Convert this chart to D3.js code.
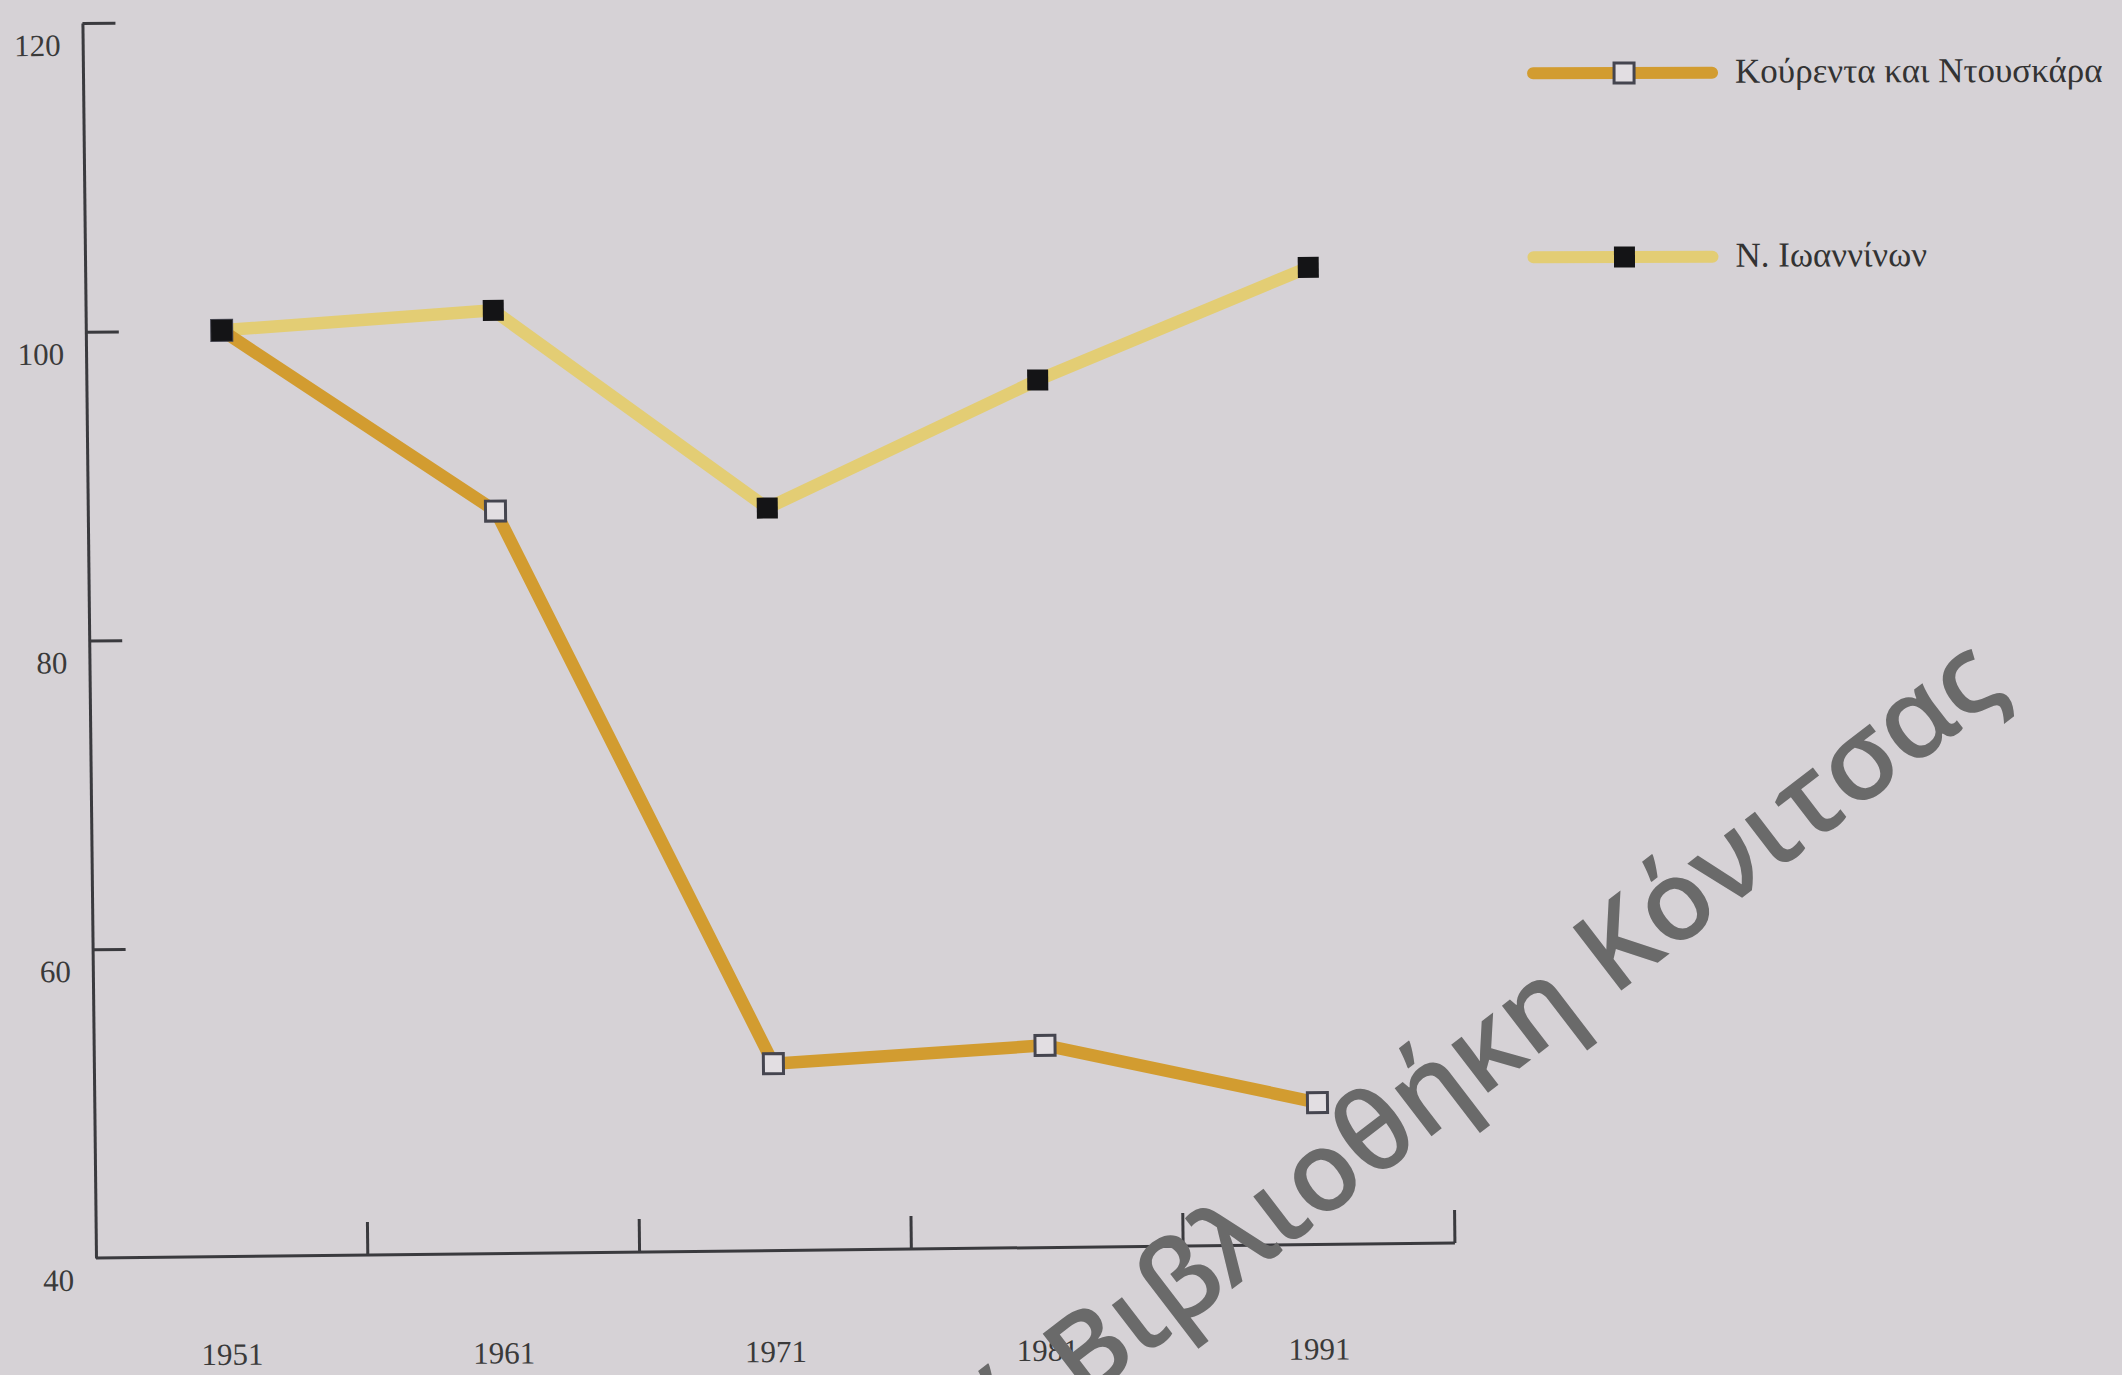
<!DOCTYPE html>
<html><head><meta charset="utf-8">
<script src="https://cdn.jsdelivr.net/npm/d3@7"></script>
<style>html,body{margin:0;padding:0;background:#d6d2d6;overflow:hidden}svg{display:block}</style>
</head><body>
<svg id="chart" width="2122" height="1375"></svg>
<script>
// ---- data ----
const years = ["1951", "1961", "1971", "1981", "1991"];
const kourenta = [100, 88.1, 52.1, 53.1, 49.2];   // Κούρεντα και Ντουσκάρα
const ioannina = [100, 101.1, 88.1, 96.2, 103.3]; // Ν. Ιωαννίνων
const yTickValues = [40, 60, 80, 100, 120];
const seriesNames = ["Κούρεντα και Ντουσκάρα", "Ν. Ιωαννίνων"];
const watermarkParts = ["Δημοτική Βιβλιοθήκη", "Κόνιτσας"];

// ---- setup ----
const svg = d3.select("#chart");
svg.append("rect").attr("width", 2122).attr("height", 1375).attr("fill", "#d6d2d6");

const x0 = 96, x1 = 1455, yTop = 23, yBot = 1258;
const g = svg.append("g").attr("transform", `rotate(-0.63,${x0},${yBot})`);

const x = d3.scaleBand().domain(years).range([x0, x1]).padding(0);
const y = d3.scaleLinear().domain([40, 120]).range([yBot, yTop]);
const cx = d => x(d) + x.bandwidth() / 2;

const axisColor = "#3a3a3e";
const serif = "'Liberation Serif','Times New Roman',serif";

// y axis (ticks pointing inside)
const yAxis = d3.axisRight(y).tickValues(yTickValues.filter(v => v > 40)).tickSize(33).tickFormat("").tickSizeOuter(0);
const ya = g.append("g").attr("transform", `translate(${x0},0)`).call(yAxis);
ya.selectAll("path,line").attr("stroke", axisColor).attr("stroke-width", 3);

// y labels
g.append("g").selectAll("text").data(yTickValues).join("text")
  .attr("x", x0 - 22).attr("y", d => y(d) + 22)
  .attr("text-anchor", "end").attr("dominant-baseline", "central")
  .attr("font-family", serif).attr("font-size", 31).attr("fill", "#3a3a3a")
  .text(d => d);

// x axis baseline and ticks at band boundaries
g.append("line").attr("x1", x0).attr("x2", x1).attr("y1", yBot).attr("y2", yBot)
  .attr("stroke", axisColor).attr("stroke-width", 3);
g.append("g").selectAll("line").data(years).join("line")
  .attr("x1", d => x(d) + x.bandwidth()).attr("x2", d => x(d) + x.bandwidth())
  .attr("y1", yBot).attr("y2", yBot - 33)
  .attr("stroke", axisColor).attr("stroke-width", 3);
g.append("g").attr("transform", `rotate(0.35,${x0},${yBot})`)
  .selectAll("text").data(years).join("text")
  .attr("x", d => cx(d)).attr("y", yBot + 97)
  .attr("text-anchor", "middle").attr("dominant-baseline", "central")
  .attr("font-family", serif).attr("font-size", 31).attr("fill", "#3a3a3a")
  .text(d => d);

// series
const colK = "#d29c30", colI = "#e3cd74";
const line = d3.line().x((d, i) => cx(years[i])).y(d => y(d));
g.append("path").datum(ioannina).attr("d", line).attr("fill", "none")
  .attr("stroke", colI).attr("stroke-width", 12.5).attr("stroke-linejoin", "round");
g.append("path").datum(kourenta).attr("d", line).attr("fill", "none")
  .attr("stroke", colK).attr("stroke-width", 12.5).attr("stroke-linejoin", "round");

const openSq = 20, blackSq = 21;
g.append("g").selectAll("rect").data(kourenta).join("rect")
  .attr("x", (d, i) => cx(years[i]) - openSq / 2).attr("y", d => y(d) - openSq / 2)
  .attr("width", openSq).attr("height", openSq)
  .attr("fill", "#e2dee2").attr("stroke", "#45454f").attr("stroke-width", 3);
g.append("g").selectAll("rect").data(ioannina).join("rect")
  .attr("x", (d, i) => cx(years[i]) - blackSq / 2).attr("y", d => y(d) - blackSq / 2)
  .attr("width", blackSq).attr("height", blackSq)
  .attr("fill", "#141416");

// legend
const legY = [89, 273];
const legX = 1546, legW = 179, legM = 91;
const leg = g.append("g").attr("transform", `rotate(0.5,${legX},${legY[0]})`)
  .selectAll("g").data(seriesNames).join("g")
  .attr("transform", (d, i) => `translate(${legX},${legY[i]})`);
leg.append("line").attr("x1", 0).attr("x2", legW).attr("y1", 0).attr("y2", 0)
  .attr("stroke", (d, i) => i === 0 ? colK : colI).attr("stroke-width", 12).attr("stroke-linecap", "round");
leg.append("rect")
  .attr("x", (d, i) => legM - (i === 0 ? openSq : blackSq) / 2)
  .attr("y", (d, i) => -(i === 0 ? openSq : blackSq) / 2)
  .attr("width", (d, i) => i === 0 ? openSq : blackSq)
  .attr("height", (d, i) => i === 0 ? openSq : blackSq)
  .attr("fill", (d, i) => i === 0 ? "#e2dee2" : "#141416")
  .attr("stroke", (d, i) => i === 0 ? "#45454f" : "none").attr("stroke-width", 3);
leg.append("text").attr("x", 202).attr("y", 10)
  .attr("font-family", serif).attr("font-size", 35).attr("fill", "#333")
  .text(d => d);

// watermark
const wm = svg.append("g").attr("font-family", "'Open Sans', sans-serif")
  .attr("font-size", 112).attr("font-weight", 600).attr("fill", "#6a6a6a");
wm.append("text").attr("transform", "translate(1588,1016) rotate(-37.5)")
  .attr("text-anchor", "end").text(watermarkParts[0]);
wm.append("text").attr("transform", "translate(1613,997) rotate(-37.5)")
  .attr("text-anchor", "start").text(watermarkParts[1]);
</script>
</body></html>
